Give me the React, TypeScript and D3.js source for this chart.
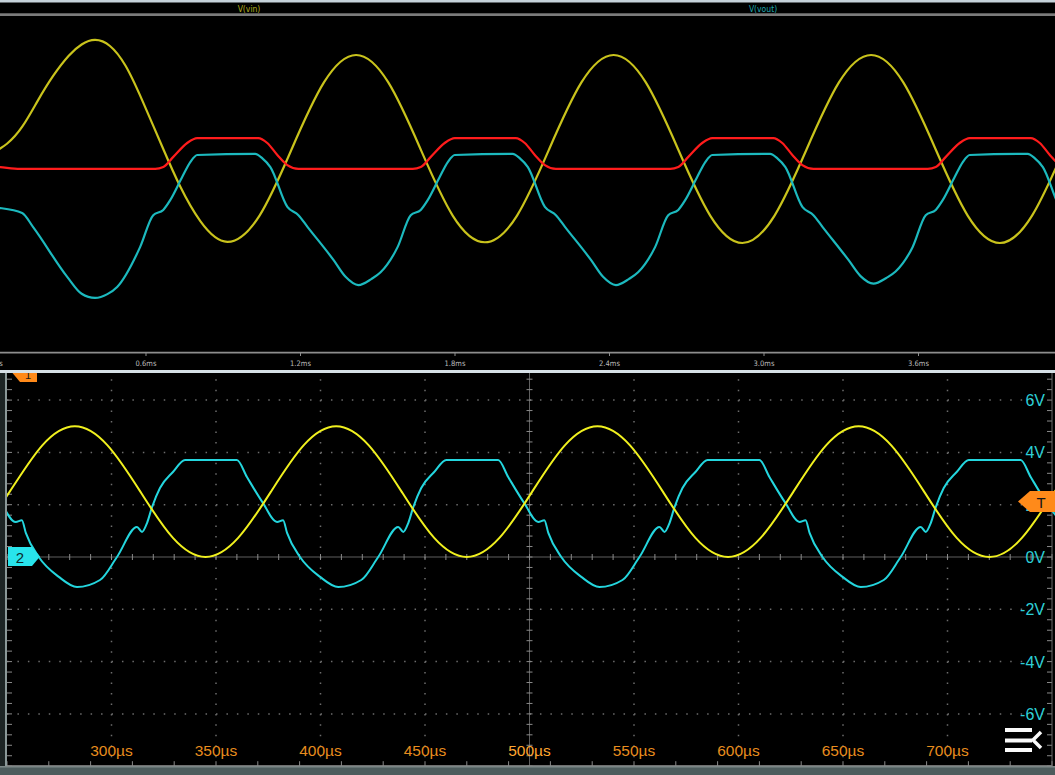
import React from "react";
import * as d3 from "d3";

// ---- top panel: simulated transient (time in ms, arbitrary volts) ----
const simVin: [number, number][] = [
  [0.0, 2.38], [0.06, 2.64], [0.12, 3.1], [0.181, 3.8], [0.24, 4.45], [0.3, 4.98], [0.35, 5.28],
  [0.402, 5.4], [0.46, 5.24], [0.52, 4.72], [0.585, 3.8], [0.667, 2.5], [0.733, 1.5], [0.811, 0.58],
  [0.916, 0.03], [1.041, 0.73], [1.166, 2.5], [1.291, 4.27], [1.416, 5.0], [1.541, 4.27], [1.666, 2.5],
  [1.791, 0.73], [1.916, 0.02], [2.041, 0.73], [2.166, 2.5], [2.291, 4.27], [2.416, 5.0],
  [2.541, 4.27], [2.666, 2.5], [2.791, 0.73], [2.916, 0.0], [3.041, 0.73], [3.166, 2.5],
  [3.291, 4.27], [3.416, 5.0], [3.541, 4.27], [3.666, 2.5], [3.791, 0.73], [3.916, 0.0],
  [4.041, 0.73], [4.166, 2.5],
];

const simVout: [number, number][] = [
  [0.0, 0.95], [0.033, 0.93], [0.119, 0.8], [0.161, 0.43], [0.294, -0.9], [0.35, -1.35], [0.402, -1.46],
  [0.45, -1.36], [0.488, -1.17], [0.577, -0.11], [0.628, 0.74], [0.667, 0.88], [0.694, 1.14], [0.741, 1.76],
  [0.772, 2.15], [0.799, 2.34], [1.024, 2.37], [1.052, 2.25], [1.083, 2.02], [1.149, 0.96],
  [1.192, 0.74], [1.227, 0.43], [1.328, -0.45], [1.375, -0.9], [1.425, -1.12],
  [1.475, -0.96], [1.511, -0.78], [1.577, -0.11], [1.628, 0.74], [1.667, 0.88], [1.694, 1.14], [1.741, 1.76],
  [1.772, 2.15], [1.799, 2.34], [2.024, 2.37], [2.052, 2.25], [2.083, 2.02], [2.149, 0.96],
  [2.192, 0.74], [2.227, 0.43], [2.328, -0.45], [2.375, -0.9], [2.425, -1.12],
  [2.475, -0.96], [2.511, -0.78], [2.577, -0.11], [2.628, 0.74], [2.667, 0.88], [2.694, 1.14], [2.741, 1.76],
  [2.772, 2.15], [2.799, 2.34], [3.024, 2.37], [3.052, 2.25], [3.083, 2.02], [3.149, 0.96],
  [3.192, 0.74], [3.227, 0.43], [3.328, -0.45], [3.375, -0.88], [3.425, -1.08],
  [3.475, -0.93], [3.511, -0.76], [3.577, -0.11], [3.628, 0.74], [3.667, 0.88], [3.694, 1.14], [3.741, 1.76],
  [3.772, 2.15], [3.799, 2.34], [4.024, 2.37], [4.052, 2.25], [4.083, 2.02], [4.149, 0.96],
  [4.192, 0.74],
];

const simRed: [number, number][] = [
  [0.0, 2.04], [0.033, 2.02], [0.111, 1.97], [0.636, 1.97], [0.667, 2.02], [0.706, 2.29],
  [0.76, 2.66], [0.799, 2.79], [1.036, 2.79], [1.071, 2.66], [1.11, 2.34], [1.149, 2.07],
  [1.192, 1.97], [1.636, 1.97], [1.667, 2.02], [1.706, 2.29], [1.76, 2.66], [1.799, 2.79],
  [2.036, 2.79], [2.071, 2.66], [2.11, 2.34], [2.149, 2.07], [2.192, 1.97], [2.636, 1.97],
  [2.667, 2.02], [2.706, 2.29], [2.76, 2.66], [2.799, 2.79], [3.036, 2.79], [3.071, 2.66],
  [3.11, 2.34], [3.149, 2.07], [3.192, 1.97], [3.636, 1.97], [3.667, 2.02], [3.706, 2.29],
  [3.76, 2.66], [3.799, 2.79], [4.036, 2.79], [4.071, 2.66], [4.11, 2.34], [4.149, 2.07],
  [4.192, 1.97],
];

const simTicks = [0, 0.6, 1.2, 1.8, 2.4, 3.0, 3.6];
const simTickLabels = ["0ms", "0.6ms", "1.2ms", "1.8ms", "2.4ms", "3.0ms", "3.6ms"];
const simNames = ["V(vin)", "V(vout)"];

// ---- bottom panel: scope capture (time in µs, volts) ----
const scopeCh1: [number, number][] = [
  [235.6, 0.73], [251.3, 2.5], [266.9, 4.27], [282.5, 5.0], [298.1, 4.27], [313.8, 2.5],
  [329.4, 0.73], [345.0, 0.0], [360.6, 0.73], [376.3, 2.5], [391.9, 4.27], [407.5, 5.0],
  [423.1, 4.27], [438.8, 2.5], [454.4, 0.73], [470.0, 0.0], [485.6, 0.73], [501.3, 2.5],
  [516.9, 4.27], [532.5, 5.0], [548.1, 4.27], [563.8, 2.5], [579.4, 0.73], [595.0, 0.0],
  [610.6, 0.73], [626.3, 2.5], [641.9, 4.27], [657.5, 5.0], [673.1, 4.27], [688.8, 2.5],
  [704.4, 0.73], [720.0, 0.0], [735.6, 0.73], [751.3, 2.5], [766.9, 4.27],
];

const scopeCh2: [number, number][] = [
  [247.5, 2.06], [254.2, 1.34], [257.1, 1.41], [259.0, 0.92], [265.2, 0.0], [274.8, -0.76],
  [283.5, -1.15], [294.5, -0.88], [302.6, 0.0], [312.2, 1.15], [314.6, 0.96], [317.0, 1.3],
  [319.4, 1.91], [323.2, 2.64], [329.4, 3.25], [335.2, 3.71], [360.0, 3.71], [364.8, 3.06],
  [372.5, 2.06], [379.2, 1.34], [382.1, 1.41], [384.0, 0.92], [390.2, 0.0], [399.8, -0.76],
  [408.5, -1.15], [419.5, -0.88], [427.6, 0.0], [437.2, 1.15], [439.6, 0.96], [442.0, 1.3],
  [444.4, 1.91], [448.2, 2.64], [454.4, 3.25], [460.2, 3.71], [485.0, 3.71], [489.8, 3.06],
  [497.5, 2.06], [504.2, 1.34], [507.1, 1.41], [509.0, 0.92], [515.2, 0.0], [524.8, -0.76],
  [533.5, -1.15], [544.5, -0.88], [552.6, 0.0], [562.2, 1.15], [564.6, 0.96], [567.0, 1.3],
  [569.4, 1.91], [573.2, 2.64], [579.4, 3.25], [585.2, 3.71], [610.0, 3.71], [614.8, 3.06],
  [622.5, 2.06], [629.2, 1.34], [632.1, 1.41], [634.0, 0.92], [640.2, 0.0], [649.8, -0.76],
  [658.5, -1.15], [669.5, -0.88], [677.6, 0.0], [687.2, 1.15], [689.6, 0.96], [692.0, 1.3],
  [694.4, 1.91], [698.2, 2.64], [704.4, 3.25], [710.2, 3.71], [735.0, 3.71], [739.8, 3.06],
  [747.5, 2.06], [754.2, 1.34],
];

const scopeTimeTicks = [300, 350, 400, 450, 500, 550, 600, 650, 700];
const scopeVoltTicks = [6, 4, 2, 0, -2, -4, -6];

export default function App() {
  const W = 1055;
  const H = 775;

  // top panel scales
  const xSim = d3.scaleLinear().domain([0, 4]).range([-8.5, -8.5 + 4 * 257.5]);
  const ySim = d3.scaleLinear().domain([0, 5]).range([243, 55]);
  const vinPath = d3.line<[number, number]>().x((d) => xSim(d[0])).y((d) => ySim(d[1])).curve(d3.curveNatural)(simVin);
  const voutPath = d3.line<[number, number]>().x((d) => xSim(d[0])).y((d) => ySim(d[1])).curve(d3.curveMonotoneX)(simVout);
  const redPath = d3.line<[number, number]>().x((d) => xSim(d[0])).y((d) => ySim(d[1])).curve(d3.curveMonotoneX)(simRed);

  // bottom panel scales
  const xScope = d3.scaleLinear().domain([250, 750]).range([7, 1052]);
  const yScope = d3.scaleLinear().domain([-8, 8]).range([766.2, 347.8]);
  const ch1Path = d3.line<[number, number]>().x((d) => xScope(d[0])).y((d) => yScope(d[1])).curve(d3.curveNatural)(scopeCh1);
  const ch2Path = d3.line<[number, number]>().x((d) => xScope(d[0])).y((d) => yScope(d[1])).curve(d3.curveMonotoneX)(scopeCh2);

  const gridX = d3.range(1, 10).map((k) => xScope(250 + k * 50));
  const gridY = d3.range(-6, 7, 2).map((v) => yScope(v));
  const minorX = d3.range(0, 51).map((k) => xScope(250 + k * 10));
  const minorY = d3.range(0, 41).map((k) => yScope(-8 + k * 0.4));

  const scopeTop = 373;
  const scopeBottom = yScope(-8);
  const cx = xScope(500);
  const cy = yScope(0);
  const dotGray = "#6c6c6c";
  const narrow = "'Liberation Sans Narrow', 'DejaVu Sans Condensed', sans-serif";
  const sans = "'Liberation Sans', Arial, sans-serif";

  return (
    <div style={{ position: "absolute", left: 0, top: 0 }}>
      <svg width={W} height={H} style={{ display: "block" }}>
        <defs>
          <clipPath id="simClip">
            <rect x={0} y={16} width={W} height={336} />
          </clipPath>
          <clipPath id="scopeClip">
            <rect x={7} y={scopeTop} width={W - 7} height={scopeBottom - scopeTop} />
          </clipPath>
          <clipPath id="markClip">
            <rect x={0} y={scopeTop} width={W} height={H - scopeTop} />
          </clipPath>
        </defs>
        <rect x={0} y={0} width={W} height={H} fill="#000" />

        {/* ---- top panel ---- */}
        <rect x={0} y={0} width={W} height={2.5} fill="#c6d2da" />
        <rect x={0} y={13.5} width={W} height={1.2} fill="#b0b0b0" />
        <rect x={0} y={14.7} width={W} height={1.3} fill="#7a7a7a" />
        <text x={249} y={11.5} textAnchor="middle" fontFamily={narrow} fontSize={8.5} fill="#b2ae1e">
          {simNames[0]}
        </text>
        <text x={763} y={11.5} textAnchor="middle" fontFamily={narrow} fontSize={8.5} fill="#1fa6ac">
          {simNames[1]}
        </text>
        <g clipPath="url(#simClip)" fill="none" strokeLinejoin="round">
          <path d={vinPath ?? ""} stroke="#c9c31c" strokeWidth={2.2} />
          <path d={voutPath ?? ""} stroke="#1cb9be" strokeWidth={2.2} />
          <path d={redPath ?? ""} stroke="#ff1c1c" strokeWidth={2.2} />
        </g>
        <line x1={0} x2={W} y1={352.6} y2={352.6} stroke="#8e8e8e" strokeWidth={1.6} />
        {simTicks.map((t, i) => (
          <g key={t}>
            <line x1={xSim(t)} x2={xSim(t)} y1={352} y2={356} stroke="#8e8e8e" strokeWidth={1} />
            <text x={i === 0 ? xSim(t) + 4 : xSim(t)} y={366} textAnchor="middle" fontFamily={narrow} fontSize={7.5} fill="#bcbcbc">
              {simTickLabels[i]}
            </text>
          </g>
        ))}
        <rect x={0} y={370} width={W} height={3} fill="#d6e0e6" />

        {/* ---- bottom panel (scope) ---- */}
        <rect x={0} y={scopeTop} width={5} height={H - scopeTop} fill="#1c2424" />
        <rect x={5} y={scopeTop} width={2} height={scopeBottom - scopeTop} fill="#8a9898" />
        <rect x={0} y={scopeBottom} width={W} height={H - scopeBottom} fill="#4d5c5d" />
        <rect x={0} y={scopeBottom} width={W} height={1.2} fill="#8a9696" />

        <g clipPath="url(#scopeClip)">
          {gridX.map((x, i) =>
            i === 4 ? null : (
              <line key={"gx" + i} x1={x} x2={x} y1={347.8} y2={scopeBottom} stroke={dotGray} strokeWidth={1.5} strokeDasharray="1.5 8.96" />
            )
          )}
          {gridY.map((y, i) =>
            i === 3 ? null : (
              <line key={"gy" + i} x1={7} x2={1052} y1={y} y2={y} stroke={dotGray} strokeWidth={1.5} strokeDasharray="1.5 8.95" />
            )
          )}
          {/* centre crosshair */}
          <line x1={7} x2={1052} y1={cy} y2={cy} stroke="#5e5e5e" strokeWidth={1} />
          <line x1={cx} x2={cx} y1={347.8} y2={scopeBottom} stroke="#5e5e5e" strokeWidth={1} />
          {minorX.map((x, i) => (
            <line key={"cxm" + i} x1={x} x2={x} y1={cy - 3} y2={cy + 3} stroke="#8a8a8a" strokeWidth={1} />
          ))}
          {minorY.map((y, i) => (
            <line key={"cym" + i} x1={cx - 3} x2={cx + 3} y1={y} y2={y} stroke="#8a8a8a" strokeWidth={1} />
          ))}
          {/* edge ticks */}
          {minorY.map((y, i) => (
            <g key={"ey" + i}>
              <line x1={7} x2={12} y1={y} y2={y} stroke="#8a8a8a" strokeWidth={1} />
              <line x1={1047} x2={1052} y1={y} y2={y} stroke="#8a8a8a" strokeWidth={1} />
            </g>
          ))}
          {minorX.map((x, i) =>
            i % 2 === 0 ? (
              <line key={"ex" + i} x1={x} x2={x} y1={scopeBottom - 5} y2={scopeBottom} stroke="#8a8a8a" strokeWidth={1} />
            ) : null
          )}
          <line x1={7} x2={1052} y1={scopeBottom - 0.5} y2={scopeBottom - 0.5} stroke="#8a8a8a" strokeWidth={1} />
          <line x1={1052} x2={1052} y1={scopeTop} y2={scopeBottom} stroke="#6a6a6a" strokeWidth={1} />

          <g fill="none" strokeLinejoin="round">
            <path d={ch2Path ?? ""} stroke="#24d6de" strokeWidth={2} />
            <path d={ch1Path ?? ""} stroke="#f0f01e" strokeWidth={2} />
          </g>
        </g>

        {/* volt labels */}
        {scopeVoltTicks.map((v) => (
          <text key={"v" + v} x={1045} y={yScope(v) + 6} textAnchor="end" fontFamily={sans} fontSize={16} fill="#2ccfd6">
            {`${v}V`}
          </text>
        ))}
        {/* time labels */}
        {scopeTimeTicks.map((t) => (
          <text key={"t" + t} x={xScope(t)} y={756} textAnchor="middle" fontFamily={sans} fontSize={15.5} fill={t === 500 ? "#ffa630" : "#e88d1e"}>
            {`${t}µs`}
          </text>
        ))}

        {/* channel 1 marker (cut at the top edge) */}
        <g clipPath="url(#markClip)">
          <polygon points="10,370 37,370 37,382 20,382" fill="#ff8a1a" />
          <text x={28} y={379} textAnchor="middle" fontFamily={sans} fontSize={11} fill="#1a1a1a">1</text>
        </g>

        {/* channel 2 ground marker */}
        <polygon points="8,547 32,547 40,556.5 32,566 8,566" fill="#28e4ec" />
        <text x={20} y={562.5} textAnchor="middle" fontFamily={sans} fontSize={15} fill="#0c2a2c">2</text>

        {/* trigger marker */}
        <polygon points="1018,501.5 1030,491 1055,491 1055,512 1030,512" fill="#ff8a1a" />
        <text x={1041} y={507.5} textAnchor="middle" fontFamily={sans} fontSize={15} fill="#151515">T</text>

        {/* menu icon */}
        <g fill="#fafafa">
          <rect x={1005} y={728} width={27} height={4} />
          <rect x={1005} y={738.5} width={27} height={4} />
          <rect x={1005} y={748} width={27} height={4} />
        </g>
        <polyline points="1041,732 1033,740 1041,748" fill="none" stroke="#fafafa" strokeWidth={3.5} />
      </svg>
    </div>
  );
}
